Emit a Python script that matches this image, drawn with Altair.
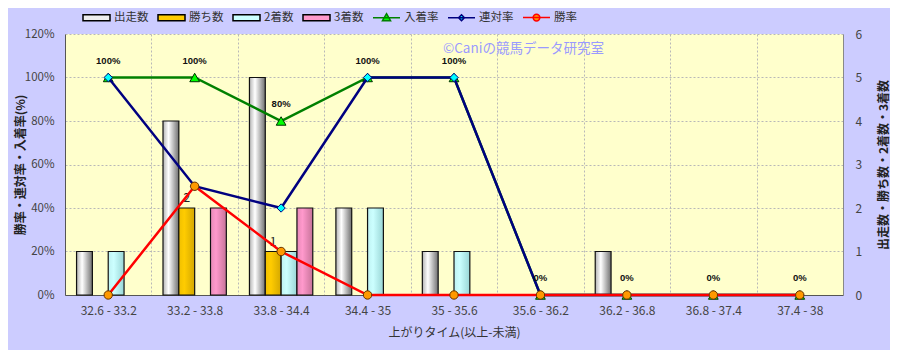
import altair as alt
import pandas as pd

categories = ["32.6 - 33.2", "33.2 - 33.8", "33.8 - 34.4", "34.4 - 35", "35 - 35.6",
              "35.6 - 36.2", "36.2 - 36.8", "36.8 - 37.4", "37.4 - 38"]
bar_series = ["出走数", "勝ち数", "2着数", "3着数"]
line_series = ["入着率", "連対率", "勝率"]
runs = [1, 4, 5, 2, 1, 0, 1, 0, 0]
wins = [0, 2, 1, 0, 0, 0, 0, 0, 0]
seconds = [1, 0, 1, 2, 1, 0, 0, 0, 0]
thirds = [0, 2, 2, 0, 0, 0, 0, 0, 0]
place_rate = [1.0, 1.0, 0.8, 1.0, 1.0, 0.0, 0.0, 0.0, 0.0]
rentai_rate = [1.0, 0.5, 0.4, 1.0, 1.0, 0.0, 0.0, 0.0, 0.0]
win_rate = [0.0, 0.5, 0.2, 0.0, 0.0, 0.0, 0.0, 0.0, 0.0]
rate_ticks = [0, 0.2, 0.4, 0.6, 0.8, 1.0, 1.2]
count_ticks = [0, 1, 2, 3, 4, 5, 6]
watermark = "©Caniの競馬データ研究室"
watermark_cat = "35 - 35.6"
watermark_y = 1.13

FONT = "Noto Sans CJK JP"
GRID = "#b8b8b8"

# ---- tables ----
bar_rows = []
for s, vals in zip(bar_series, [runs, wins, seconds, thirds]):
    for c, v in zip(categories, vals):
        if v > 0:
            bar_rows.append({"cat": c, "series": s, "count": v})
bars_df = pd.DataFrame(bar_rows)

line_rows = []
for s, vals in zip(line_series, [place_rate, rentai_rate, win_rate]):
    for c, v in zip(categories, vals):
        line_rows.append({"cat": c, "series": s, "rate": v})
lines_df = pd.DataFrame(line_rows)

legend_df = pd.DataFrame({"series": bar_series + line_series,
                          "cat": [categories[0]] * 7, "rate": [0.0] * 7})
wm_df = pd.DataFrame({"cat": [watermark_cat], "rate": [watermark_y], "text": [watermark]})

# ---- scales / axes ----
x_scale = alt.Scale(domain=categories, paddingInner=0, paddingOuter=0)
x_axis = alt.Axis(title="上がりタイム(以上-未満)", labelAngle=0, tickBand="extent", grid=True,
                  gridDash=[2, 2], gridColor=GRID, ticks=False, domainColor="#555555",
                  labelPadding=10, labelFontSize=12, labelColor="#444444", labelFont=FONT,
                  titleFont=FONT, titleFontSize=12, titleFontWeight="normal", titleColor="#333333",
                  titlePadding=11)
X = alt.X("cat:N", scale=x_scale, axis=x_axis, sort=categories)

rate_axis = alt.Axis(orient="left", values=rate_ticks, format=".0%", title="勝率・連対率・入着率(%)",
                     grid=True, gridDash=[2, 2], gridColor=GRID, ticks=False, labelPadding=11,
                     domainColor="#555555", labelFontSize=11.5, labelColor="#444444", labelFont=FONT,
                     titleFont=FONT, titleFontSize=12, titleFontWeight="bold", titleColor="#222222",
                     titlePadding=-3)
count_axis = alt.Axis(orient="right", values=count_ticks, format="d", title="出走数・勝ち数・2着数・3着数",
                      grid=False, ticks=False, labelPadding=12, domainColor="#888888",
                      labelFontSize=12, labelColor="#444444", labelFont=FONT,
                      titleFont=FONT, titleFontSize=12, titleFontWeight="bold", titleColor="#222222",
                      titleAngle=270, titlePadding=29)
rate_scale = alt.Scale(domain=[0, 1.2], nice=False)
count_scale = alt.Scale(domain=[0, 6], nice=False)
off_scale = alt.Scale(domain=bar_series, paddingInner=0, paddingOuter=0.73)


def grad(c0, c1, c2):
    return alt.Gradient(gradient="linear", x1=0, x2=1, y1=0, y2=0,
                        stops=[alt.GradientStop(color=c0, offset=0),
                               alt.GradientStop(color=c1, offset=0.35),
                               alt.GradientStop(color=c2, offset=1)])


bar_fills = {
    "出走数": grad("#b4b4b4", "#ffffff", "#707070"),
    "勝ち数": grad("#f0c000", "#ffcc00", "#d4a800"),
    "2着数": grad("#bff2f2", "#ccffff", "#99d6d6"),
    "3着数": grad("#e88ab8", "#ff99cc", "#c77399"),
}

bar_layers = []
for s in bar_series:
    bar_layers.append(
        alt.Chart(bars_df).transform_filter(alt.datum.series == s)
        .mark_bar(fill=bar_fills[s], stroke="#111111", strokeWidth=1.2)
        .encode(x=X, xOffset=alt.XOffset("series:N", scale=off_scale),
                y=alt.Y("count:Q", scale=count_scale, axis=count_axis))
    )
win_labels = (alt.Chart(bars_df).transform_filter(alt.datum.series == "勝ち数")
              .mark_text(dy=-10, fontSize=12, font=FONT, color="#222222")
              .encode(x=X, xOffset=alt.XOffset("series:N", scale=off_scale),
                      y=alt.Y("count:Q", scale=count_scale, axis=count_axis),
                      text="count:Q"))
bars_group = alt.layer(*bar_layers, win_labels)

Y = alt.Y("rate:Q", scale=rate_scale, axis=rate_axis)
line_style = {
    "入着率": dict(color="#008000", shape="triangle-up", fill="#00ff00", stroke="#003300", size=95),
    "連対率": dict(color="#000080", shape="diamond", fill="#00ffff", stroke="#000080", size=70),
    "勝率": dict(color="#ff0000", shape="circle", fill="#ff9900", stroke="#663300", size=70),
}
line_layers = []
for s in line_series:
    st = line_style[s]
    base = alt.Chart(lines_df).transform_filter(alt.datum.series == s)
    line_layers.append(base.mark_line(color=st["color"], strokeWidth=2.5).encode(x=X, y=Y))
    line_layers.append(base.mark_point(shape=st["shape"], filled=True, fill=st["fill"],
                                       stroke=st["stroke"], strokeWidth=1, size=st["size"],
                                       opacity=1).encode(x=X, y=Y))

place_labels = (alt.Chart(lines_df).transform_filter(alt.datum.series == "入着率")
                .mark_text(dy=-17, fontSize=9.5, fontWeight="bold", font="Liberation Sans",
                           color="#111111")
                .encode(x=X, y=Y, text=alt.Text("rate:Q", format=".0%")))

wm = (alt.Chart(wm_df).mark_text(align="left", baseline="middle", dx=-11, fontSize=13.5,
                                  font=FONT, color="#9a9aff")
      .encode(x=X, y=Y, text="text:N"))

leg = alt.Legend(title=None, orient="none", legendX=17, legendY=-31, direction="horizontal",
                 symbolSize=729, symbolStrokeWidth=1.5, symbolOpacity=1, labelFont=FONT,
                 labelFontSize=11.5, labelColor="#333333", labelOffset=3, columnPadding=6,
                 gridAlign="each", padding=0)
shape_paths = [
    "M-1,-0.22H1V0.22H-1Z",
    "M-1,-0.22H1V0.22H-1Z",
    "M-1,-0.22H1V0.22H-1Z",
    "M-1,-0.22H1V0.22H-1Z",
    "M-1,0H1M0,-0.3L0.3,0.22L-0.3,0.22Z",
    "M-1,0H1M0,-0.22L0.22,0L0,0.22L-0.22,0Z",
    "M-1,0H1M-0.25,0A0.25,0.25,0,1,0,0.25,0A0.25,0.25,0,1,0,-0.25,0Z",
]
domain_all = bar_series + line_series
legend_layer = (alt.Chart(legend_df).mark_point(filled=True, opacity=0)
                .encode(x=X, y=Y,
                        fill=alt.Fill("series:N", sort=domain_all, legend=leg,
                                      scale=alt.Scale(domain=domain_all,
                                                      range=["#eeeeee", "#ffcc00", "#ccffff", "#ff99cc",
                                                             "#00ff00", "#00ffff", "#ff9900"])),
                        stroke=alt.Stroke("series:N", sort=domain_all, legend=leg,
                                          scale=alt.Scale(domain=domain_all,
                                                          range=["#000000", "#000000", "#000000", "#000000",
                                                                 "#008000", "#000080", "#ff0000"])),
                        shape=alt.Shape("series:N", sort=domain_all, legend=leg,
                                        scale=alt.Scale(domain=domain_all, range=shape_paths))))

lines_group = alt.layer(*line_layers, place_labels, wm, legend_layer)

chart = (alt.layer(bars_group, lines_group)
         .resolve_scale(y="independent")
         .properties(width=778, height=261, background="#ccccff",
                     autosize=alt.AutoSizeParams(type="none"),
                     padding={"left": 57, "top": 26, "right": 47, "bottom": 55})
         .configure_view(fill="#ffffcc", stroke=None))

chart.save("out.html", embed_options={"renderer": "svg", "actions": False})
